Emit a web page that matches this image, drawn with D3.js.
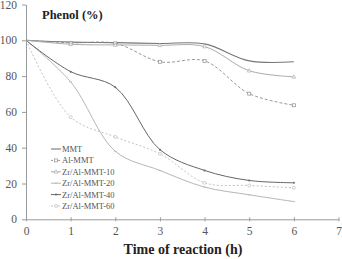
<!DOCTYPE html>
<html><head><meta charset="utf-8">
<script src="https://cdn.jsdelivr.net/npm/d3@7"></script>
<style>body{margin:0;background:#fff}svg{display:block}</style>
</head><body>
<svg id="c" width="342" height="259"></svg>
<script>
const hours = [0, 1, 2, 3, 4, 5, 6];
const seriesNames = ["MMT", "Al-MMT", "Zr/Al-MMT-10", "Zr/Al-MMT-20", "Zr/Al-MMT-40", "Zr/Al-MMT-60"];
const mmt      = [100, 99, 98.7, 98.2, 98, 88.5, 88];
const alMmt    = [100, 98.6, 98.3, 88, 88.5, 70.2, 63.7];
const zr10     = [100, 97.8, 97.4, 97.2, 96.5, 83, 79.6];
const zr20     = [100, 76.8, 38, 27.3, 18, 13.7, 9.9];
const zr40     = [100, 82.5, 73.8, 38.9, 27.3, 21.7, 20.4];
const zr60     = [100, 57.1, 46, 36.6, 20.4, 18.9, 17.6];
const xTicks = [0, 1, 2, 3, 4, 5, 6, 7];
const yTicks = [0, 20, 40, 60, 80, 100, 120];

const styles = [
  {color:"#777", dash:null, marker:"none", w:1.1},
  {color:"#8e8e8e", dash:"3,2", marker:"square", w:0.9},
  {color:"#ababab", dash:null, marker:"tri", w:1},
  {color:"#b6b6b6", dash:null, marker:"cross", w:1},
  {color:"#666", dash:null, marker:"dot", w:1},
  {color:"#bbb", dash:"2,2", marker:"circle", w:0.9}
];
const allData = [mmt, alMmt, zr10, zr20, zr40, zr60];

const svg = d3.select("#c");
const x = d3.scaleLinear().domain([0, 7]).range([26, 338.5]);
const y = d3.scaleLinear().domain([0, 120]).range([219.3, 4.5]);
const font = "'Liberation Serif','Times New Roman',serif";

// axes
const xAxis = svg.append("g").attr("transform", `translate(0,${y(0)})`)
  .call(d3.axisBottom(x).tickValues(xTicks).tickFormat(d3.format("d")).tickSize(0).tickPadding(8));
xAxis.attr("font-family", null);
xAxis.select(".domain").attr("stroke", "#9a9a9a");
xAxis.selectAll(".tick").append("line").attr("y1", -2).attr("y2", 2).attr("stroke", "#9a9a9a");
xAxis.selectAll("text").style("font-family", font).style("font-size", "11.5px").attr("fill", "#555");

const yAxis = svg.append("g").attr("transform", `translate(${x(0)},0)`)
  .call(d3.axisLeft(y).tickValues(yTicks).tickFormat(d3.format("d")).tickSize(4).tickSizeOuter(0).tickPadding(5));
yAxis.attr("font-family", null);
yAxis.select(".domain").attr("stroke", "#9a9a9a");
yAxis.selectAll(".tick line").attr("stroke", "#9a9a9a");
yAxis.selectAll("text").style("font-family", font).style("font-size", "11.5px").attr("fill", "#555");

// lines
const line = d3.line().x((d, i) => x(hours[i])).y(d => y(d)).curve(d3.curveCatmullRom.alpha(0.5));
allData.forEach((data, k) => {
  const s = styles[k];
  svg.append("path").attr("d", line(data)).attr("fill", "none")
    .attr("stroke", s.color).attr("stroke-width", s.w)
    .attr("stroke-dasharray", s.dash);
  data.forEach((v, i) => {
    if (i === 0) return;
    drawMarker(svg, s, x(hours[i]), y(v));
  });
});

function drawMarker(g, s, cx, cy) {
  if (s.marker === "square") {
    g.append("rect").attr("x", cx - 1.5).attr("y", cy - 1.5).attr("width", 3).attr("height", 3)
      .attr("fill", "#fff").attr("stroke", s.color).attr("stroke-width", 0.7);
  } else if (s.marker === "tri") {
    g.append("path").attr("d", `M${cx},${cy-2}L${cx+1.8},${cy+1.3}L${cx-1.8},${cy+1.3}Z`)
      .attr("fill", "#fff").attr("stroke", s.color).attr("stroke-width", 0.7);
  } else if (s.marker === "cross") {
    g.append("path").attr("d", `M${cx-1.3},${cy}L${cx+1.3},${cy}`).attr("stroke", s.color).attr("stroke-width", 0.8);
  } else if (s.marker === "dot") {
    g.append("circle").attr("cx", cx).attr("cy", cy).attr("r", 1).attr("fill", s.color);
  } else if (s.marker === "circle") {
    g.append("circle").attr("cx", cx).attr("cy", cy).attr("r", 1.5)
      .attr("fill", "#fff").attr("stroke", s.color).attr("stroke-width", 0.7);
  }
}

// legend
const leg = svg.append("g");
seriesNames.forEach((n, k) => {
  const s = styles[k];
  const ly = 149 + k * 11.4;
  leg.append("line").attr("x1", 51).attr("x2", 61).attr("y1", ly).attr("y2", ly)
    .attr("stroke", s.color).attr("stroke-width", s.w).attr("stroke-dasharray", s.dash ? "2,1.5" : null);
  drawMarker(leg, s, 56, ly);
  leg.append("text").attr("x", 62).attr("y", ly + 3).text(n)
    .style("font-family", font).style("font-size", "8.5px").attr("fill", "#555");
});

// titles
svg.append("text").attr("x", 42).attr("y", 19).text("Phenol (%)")
  .style("font-family", font).style("font-size", "12.5px").attr("font-weight", "bold").attr("fill", "#222");
svg.append("text").attr("x", 183).attr("y", 254).attr("text-anchor", "middle").text("Time of reaction (h)")
  .style("font-family", font).style("font-size", "14px").attr("font-weight", "bold").attr("fill", "#222");
</script>
</body></html>
